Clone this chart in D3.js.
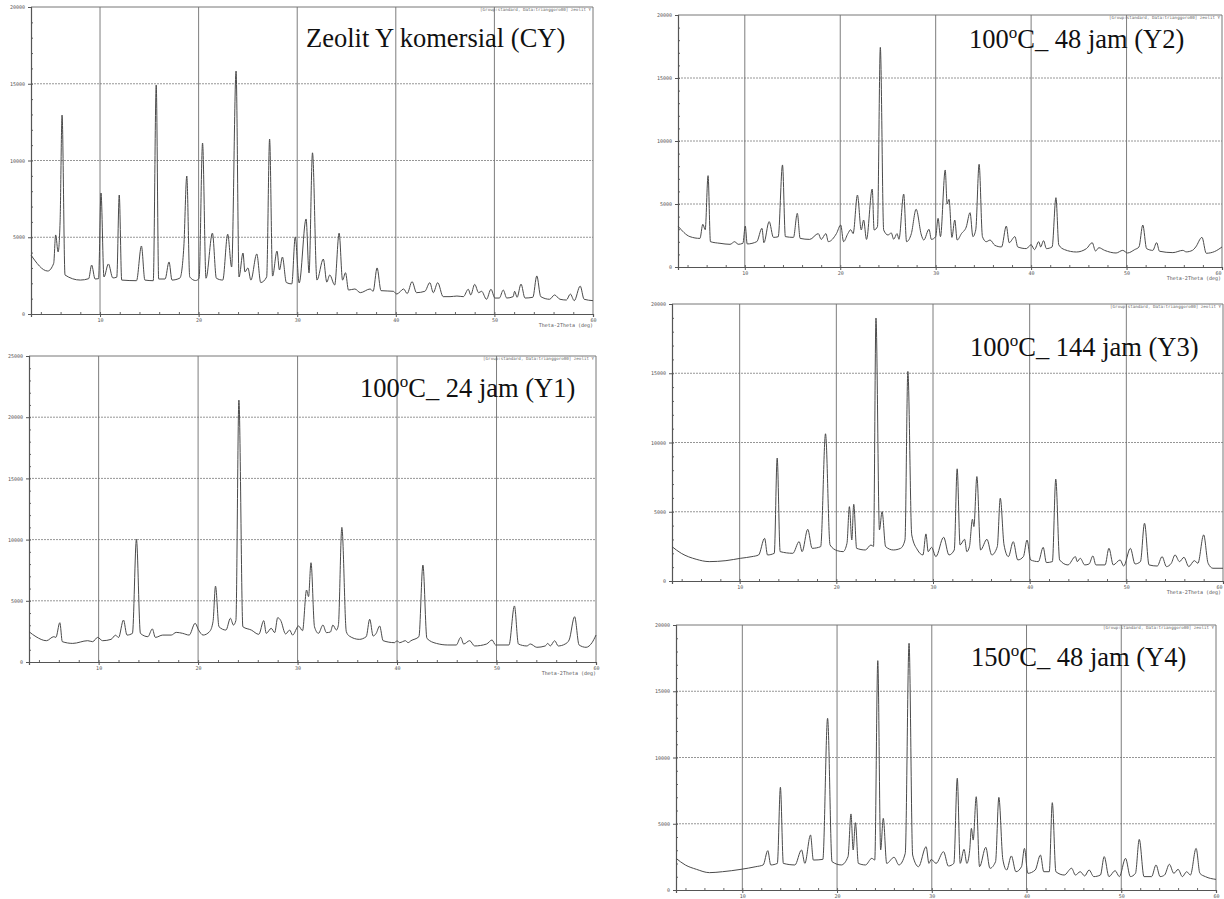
<!DOCTYPE html>
<html>
<head>
<meta charset="utf-8">
<script src="https://cdn.jsdelivr.net/npm/d3@7"></script>
<style>
  body { margin: 0; background: #fff; }
  svg { display: block; }
</style>
</head>
<body>
<svg id="chart" width="1224" height="899"></svg>
<script>
"use strict"
// XRD patterns, [2theta (deg), intensity (counts)]
var seriesCY = [[3,3840],[4.7,2800],[5.3,3300],[5.5,5150],[5.75,4040],[5.95,6000],[6.15,12960],[6.45,2540],[8.0,2210],[8.85,2300],[9.15,3190],[9.5,2280],[9.85,2300],[10.1,7880],[10.4,2410],[10.85,3260],[11.3,2350],[11.7,2400],[11.95,7750],[12.2,2210],[13.7,2170],[14.2,4430],[14.55,2210],[15.4,2170],[15.7,14920],[15.95,2280],[16.6,2280],[17.0,3390],[17.3,2210],[18.1,2340],[18.5,4370],[18.8,8990],[19.1,2410],[19.7,2180],[20.05,2330],[20.4,11140],[20.75,2330],[21.4,5270],[21.8,2330],[22.45,2210],[22.95,5200],[23.35,3060],[23.8,15830],[24.1,2410],[24.5,3970],[24.7,2740],[25.0,3000],[25.3,2210],[25.9,3910],[26.3,2050],[26.9,2410],[27.2,11400],[27.5,2470],[27.95,4100],[28.2,2870],[28.5,3710],[28.9,2050],[29.45,1960],[29.8,5020],[30.2,2020],[30.9,6190],[31.2,2670],[31.55,10500],[32.0,2210],[32.65,3580],[33.0,2080],[33.3,2540],[33.8,1890],[34.25,5270],[34.6,2210],[34.9,2690],[35.2,1560],[35.85,1630],[36.4,1390],[37.4,1630],[37.7,1480],[38.1,3000],[38.5,1520],[39.75,1480],[40.1,1300],[40.8,1630],[41.15,1330],[41.65,2110],[42.1,1390],[42.95,1480],[43.45,2040],[43.8,1390],[44.25,2040],[44.8,1130],[45.5,1130],[46.2,1170],[46.85,1130],[47.35,1610],[47.6,1240],[48.0,1930],[48.4,1390],[48.7,1480],[49.2,960],[49.65,1610],[50.05,1040],[50.5,1040],[50.9,1560],[51.25,1040],[51.9,1130],[52.05,1480],[52.3,1090],[52.7,1950],[53.1,1040],[53.9,1090],[54.3,2480],[54.7,1130],[55.6,960],[56.1,1240],[56.65,960],[57.3,910],[57.7,1300],[58.1,870],[58.7,1820],[59.1,960],[60,870]];

var seriesY1 = [[3,2480],[3.7,2070],[4.75,1740],[5.5,2070],[5.7,2010],[6.1,3210],[6.35,1660],[7.4,1520],[8.9,1740],[9.4,1660],[9.9,2010],[10.4,1740],[11.25,1850],[11.7,2190],[12.0,2000],[12.5,3430],[12.85,2200],[13.4,2340],[13.8,10020],[14.2,2340],[14.95,2070],[15.4,2700],[15.7,2010],[16.45,2200],[17.3,2200],[17.8,2420],[18.45,2340],[19.1,2200],[19.7,3160],[20.05,2610],[20.5,2200],[21.15,2480],[21.5,3300],[21.75,6200],[22.1,2880],[22.8,2610],[23.25,3570],[23.55,3020],[23.8,3400],[24.1,21400],[24.5,2880],[25.35,2610],[26.1,2260],[26.6,3380],[26.85,2340],[27.35,2750],[27.7,2400],[28.0,3620],[28.3,3400],[28.8,2290],[29.2,2610],[29.5,2200],[30.1,2940],[30.5,2560],[30.9,5880],[31.1,5340],[31.35,8110],[31.7,2880],[32.1,2340],[32.55,3020],[32.9,2400],[33.3,2450],[33.55,3020],[33.9,2610],[34.1,3000],[34.45,11000],[34.9,2480],[35.2,2120],[36.2,1850],[36.9,2070],[37.25,3490],[37.6,2120],[37.9,2340],[38.25,2940],[38.6,1740],[39.75,1580],[40.0,1740],[40.25,1580],[40.85,1740],[41.1,1580],[41.4,1740],[42.2,2070],[42.6,7920],[43.0,1930],[43.95,1520],[45.1,1390],[45.95,1390],[46.4,2010],[46.7,1470],[47.3,1740],[47.8,1310],[49.0,1470],[49.55,1800],[49.9,1390],[51.25,1390],[51.8,4580],[52.2,1470],[53.05,1310],[53.4,1470],[54.05,1200],[54.9,1310],[55.15,1520],[55.4,1310],[55.85,1740],[56.2,1310],[56.9,1470],[57.3,1800],[57.85,3700],[58.3,1390],[59.0,1200],[59.6,1580],[60,2200]];

var seriesY2 = [[3,3250],[4.25,2410],[5.3,2270],[5.6,3390],[5.85,2960],[6.15,7250],[6.4,2010],[7.4,1880],[8.45,1800],[8.95,2010],[9.3,1800],[9.8,1880],[10.05,3250],[10.25,1830],[11.25,2010],[11.8,3070],[12.0,1930],[12.55,3600],[13.0,2350],[13.5,2400],[13.95,8100],[14.25,2410],[15.1,2350],[15.5,4260],[15.8,2270],[16.8,2190],[17.7,2650],[18.0,2190],[18.5,2650],[18.75,2010],[19.6,2650],[20.05,3330],[20.35,2010],[20.8,2650],[21.1,2960],[21.35,2650],[21.8,5710],[22.2,2940],[22.45,3730],[22.75,2190],[23.35,6190],[23.55,2940],[23.9,3200],[24.2,17430],[24.55,2940],[25.0,2540],[25.35,2700],[25.6,2200],[25.95,2650],[26.15,2200],[26.65,5790],[26.95,2010],[27.45,2650],[27.95,4580],[28.5,2540],[28.75,2140],[29.3,2990],[29.55,2190],[30.0,2410],[30.25,3860],[30.5,2410],[31.0,7700],[31.2,5000],[31.4,5370],[31.7,2350],[32.0,3730],[32.25,2140],[32.7,2650],[33.2,3170],[33.6,4310],[33.9,2410],[34.2,2960],[34.55,8150],[34.9,2410],[35.3,2010],[35.7,2140],[36.2,1720],[36.9,1590],[37.4,3250],[37.7,1930],[38.3,2410],[38.6,1590],[39.5,1460],[40.0,1770],[40.35,1380],[40.8,2010],[41.0,1590],[41.3,2090],[41.6,1460],[42.2,1590],[42.6,5500],[42.9,1750],[43.5,1380],[44.75,1190],[45.8,1460],[46.4,1930],[46.75,1270],[47.1,1530],[47.7,1320],[48.9,1110],[49.6,1320],[50.1,1110],[50.85,1380],[51.3,1590],[51.7,3330],[52.1,1460],[52.75,1320],[53.15,1930],[53.45,1250],[54.85,1140],[55.9,1320],[56.25,1200],[56.9,1320],[57.25,1590],[57.9,2350],[58.35,1090],[59.2,1220],[60,1590]];

var seriesY3 = [[3,2480],[3.96,2000],[5.5,1570],[6.85,1400],[8.58,1470],[10.1,1640],[11.27,1760],[11.96,1880],[12.58,3080],[12.88,1880],[13.58,2000],[13.88,8870],[14.19,2120],[15.5,2000],[16.15,2840],[16.46,2120],[17.04,3730],[17.5,2360],[18.38,2480],[18.88,10630],[19.35,2600],[20.1,2190],[20.7,2120],[21.1,2720],[21.35,5370],[21.6,2960],[21.8,5540],[22.1,2360],[23.0,2240],[23.58,2600],[23.85,2500],[24.1,18990],[24.46,3690],[24.73,5010],[25.1,2480],[25.9,2240],[26.65,2360],[27.1,2960],[27.4,15130],[27.8,3330],[28.4,2240],[28.96,1880],[29.27,3400],[29.5,2120],[29.85,2430],[30.3,1760],[31.1,3160],[31.65,1880],[32.2,2240],[32.5,8100],[32.8,2600],[33.27,3010],[33.5,2120],[33.77,2480],[34.08,4460],[34.23,3930],[34.54,7540],[34.92,2240],[35.58,3010],[36.08,1880],[36.65,2480],[36.96,5980],[37.35,2600],[37.8,1760],[38.3,2840],[38.77,1520],[39.35,1760],[39.73,2960],[40.1,1520],[40.9,1400],[41.4,2430],[41.73,1330],[42.35,1400],[42.7,7350],[43.1,1520],[43.96,1160],[44.73,1760],[44.92,1400],[45.23,1640],[45.7,1160],[46.15,1230],[46.54,1810],[46.85,1160],[47.8,1160],[48.2,2360],[48.65,1160],[49.35,1520],[49.73,1080],[50.42,2360],[50.9,1230],[51.46,1400],[51.88,4170],[52.35,1160],[53.2,1080],[53.7,1760],[54.15,1040],[54.65,1280],[55.04,1880],[55.5,1400],[55.96,1710],[56.46,1040],[57.04,1470],[57.4,1280],[58.0,3330],[58.46,1280],[58.96,920],[60,920]];

var seriesY4 = [[3,2390],[3.98,1890],[5.16,1560],[6.53,1310],[7.9,1380],[9.86,1560],[11.43,1760],[12.2,1890],[12.69,2970],[13.0,1890],[13.7,2010],[14.02,7750],[14.33,2010],[15.55,1890],[16.25,3020],[16.6,2010],[17.2,4150],[17.5,2260],[18.5,2310],[19.0,12960],[19.47,2140],[20.45,1890],[21.16,2520],[21.47,5740],[21.7,3020],[21.94,5080],[22.25,2010],[23.0,1890],[23.67,2390],[23.98,2260],[24.3,17310],[24.6,3020],[24.88,5410],[25.24,2010],[26.02,2470],[26.53,1890],[27.2,2770],[27.6,18620],[27.98,2640],[28.6,1760],[29.4,3270],[29.7,2010],[29.94,2310],[30.45,2010],[31.24,2890],[31.75,1810],[32.33,2010],[32.69,8430],[33.0,2010],[33.4,3070],[33.7,2010],[34.0,3000],[34.18,4650],[34.37,3770],[34.69,7040],[35.04,1760],[35.7,3220],[36.14,1640],[36.73,2140],[37.08,6990],[37.5,2310],[37.9,1510],[38.4,2570],[38.88,1380],[39.47,1760],[39.78,3140],[40.14,1260],[40.92,1510],[41.47,2640],[41.82,1380],[42.4,1380],[42.72,6590],[43.1,1380],[43.98,1130],[44.76,1640],[45.16,1130],[45.67,1380],[46.14,1060],[46.6,1510],[47.1,1010],[47.8,1130],[48.2,2520],[48.7,1010],[49.35,1460],[49.8,1010],[50.45,2390],[50.96,1010],[51.5,1260],[51.9,3820],[52.4,1010],[53.2,1010],[53.67,1890],[54.1,1010],[54.57,1130],[55.08,1940],[55.55,1260],[56.0,1560],[56.45,1010],[56.9,1380],[57.3,1130],[57.9,3140],[58.3,1260],[58.88,1010],[60,800]];

var xDomain = [3, 60];
var xTicks = [10, 20, 30, 40, 50, 60];
var yTicks20 = [0, 5000, 10000, 15000, 20000];
var yTicks25 = [0, 5000, 10000, 15000, 20000, 25000];
var headerText = "[Group:standard, Data:trianggoro00] zeolit Y";
var axisTitle = "Theta-2Theta (deg)";

// panel placement on the scanned page (pixels)
var panels = [
  {data: seriesCY, yMax: 20000, yTicks: yTicks20, left: 31, right: 593, bottom: 314, top: 7,
   title: ["Zeolit Y komersial (CY)"], tx: 306, ty: 47, showAxisTitle: true},
  {data: seriesY1, yMax: 25000, yTicks: yTicks25, left: 29, right: 596, bottom: 662, top: 356,
   title: ["100", "o", "C_ 24 jam (Y1)"], tx: 360, ty: 397, showAxisTitle: true},
  {data: seriesY2, yMax: 20000, yTicks: yTicks20, left: 678, right: 1222, bottom: 267, top: 15,
   title: ["100", "o", "C_ 48 jam (Y2)"], tx: 969, ty: 48, showAxisTitle: true},
  {data: seriesY3, yMax: 20000, yTicks: yTicks20, left: 672, right: 1223, bottom: 581, top: 304,
   title: ["100", "o", "C_ 144 jam (Y3)"], tx: 970, ty: 356, showAxisTitle: true},
  {data: seriesY4, yMax: 20000, yTicks: yTicks20, left: 676, right: 1216, bottom: 890, top: 625,
   title: ["150", "o", "C_ 48 jam (Y4)"], tx: 971, ty: 666, showAxisTitle: false}
];

var pageWidth = 1224;
var svg = d3.select("#chart");
svg.append("rect").attr("width", pageWidth).attr("height", 899).attr("fill", "#fff");

var tickFont = "DejaVu Sans Mono, monospace";

function drawPanel(p) {
  var x = d3.scaleLinear().domain(xDomain).range([p.left, p.right]);
  var y = d3.scaleLinear().domain([0, p.yMax]).range([p.bottom, p.top]);
  var g = svg.append("g");

  // horizontal grid (dotted)
  g.selectAll(".hg").data(p.yTicks.slice(1, -1)).join("line")
    .attr("x1", p.left).attr("x2", p.right)
    .attr("y1", function(d) { return y(d); }).attr("y2", function(d) { return y(d); })
    .attr("stroke", "#8a8a8a").attr("stroke-width", 0.9).attr("stroke-dasharray", "2,1");

  // vertical grid
  g.selectAll(".vg").data(xTicks.slice(0, -1)).join("line")
    .attr("x1", function(d) { return x(d); }).attr("x2", function(d) { return x(d); })
    .attr("y1", p.top).attr("y2", p.bottom)
    .attr("stroke", "#6e6e6e").attr("stroke-width", 0.9);

  // frame top / right
  g.append("line").attr("x1", p.left).attr("x2", p.right).attr("y1", p.top).attr("y2", p.top)
    .attr("stroke", "#777").attr("stroke-width", 1);
  g.append("line").attr("x1", p.right).attr("x2", p.right).attr("y1", p.top).attr("y2", p.bottom)
    .attr("stroke", "#777").attr("stroke-width", 1);

  // minor ticks
  var xMinor = d3.axisBottom(x).tickValues(d3.range(4, 60, 2)).tickSize(-2).tickFormat("");
  g.append("g").attr("transform", "translate(0," + p.bottom + ")").call(xMinor)
    .call(function(a) { a.select(".domain").remove(); a.selectAll("line").attr("stroke", "#666"); });
  var yMinor = d3.axisLeft(y).tickValues(d3.range(0, p.yMax, 1000)).tickSize(-2).tickFormat("");
  g.append("g").attr("transform", "translate(" + p.left + ",0)").call(yMinor)
    .call(function(a) { a.select(".domain").remove(); a.selectAll("line").attr("stroke", "#666"); });

  // main axes
  var xAxis = d3.axisBottom(x).tickValues(xTicks).tickSize(3).tickPadding(1).tickFormat(d3.format("d"));
  var yAxis = d3.axisLeft(y).tickValues(p.yTicks).tickSize(3).tickPadding(3).tickFormat(d3.format("d"));
  var gx = g.append("g").attr("transform", "translate(0," + p.bottom + ")").call(xAxis);
  var gy = g.append("g").attr("transform", "translate(" + p.left + ",0)").call(yAxis);
  [gx, gy].forEach(function(a) {
    a.select(".domain").attr("stroke", "#555").attr("stroke-width", 1.2);
    a.selectAll("line").attr("stroke", "#555");
    a.selectAll("text").attr("font-family", tickFont).attr("font-size", 5).attr("fill", "#555");
  });
  // keep a tick label that would run past the page edge inside it
  gx.selectAll(".tick text").filter(function(d) { return x(d) + 4 > pageWidth; })
    .attr("text-anchor", "end").attr("x", -1);

  // pattern
  var line = d3.line()
    .x(function(d) { return x(d[0]); })
    .y(function(d) { return y(d[1]); })
    .curve(d3.curveMonotoneX);
  g.append("path").datum(p.data)
    .attr("fill", "none").attr("stroke", "#4a4a4a").attr("stroke-width", 1)
    .attr("stroke-linejoin", "round").attr("d", line);

  // instrument header
  g.append("text").attr("x", p.right - 2).attr("y", p.top + 4)
    .attr("text-anchor", "end").attr("font-family", tickFont).attr("font-size", 4.2)
    .attr("fill", "#666").text(headerText);

  if (p.showAxisTitle) {
    g.append("text").attr("x", Math.min(p.right, pageWidth - 3)).attr("y", p.bottom + 13)
      .attr("text-anchor", "end").attr("font-family", tickFont).attr("font-size", 5)
      .attr("fill", "#555").text(axisTitle);
  }

  // sample label
  var t = g.append("text").attr("x", p.tx).attr("y", p.ty)
    .attr("font-family", "Liberation Serif, Times New Roman, serif").attr("font-size", 26.5)
    .attr("fill", "#111");
  if (p.title.length === 1) {
    t.text(p.title[0]);
  } else {
    t.append("tspan").text(p.title[0]);
    t.append("tspan").attr("font-size", 17).attr("dy", -10).text(p.title[1]);
    t.append("tspan").attr("dy", 10).text(p.title[2]);
  }
}

panels.forEach(drawPanel);
</script>
</body>
</html>
